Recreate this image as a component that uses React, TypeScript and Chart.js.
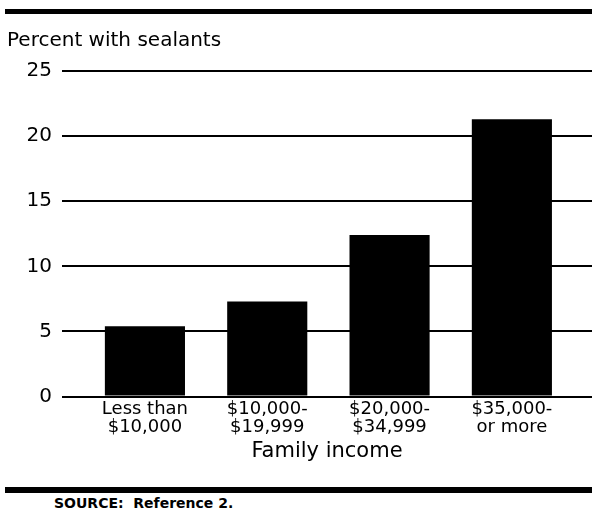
import React, { useEffect, useRef } from "react";
import { Chart, registerables } from "chart.js";

Chart.register(...registerables);

const categories: string[][] = [
  ["Less than", "$10,000"],
  ["$10,000-", "$19,999"],
  ["$20,000-", "$34,999"],
  ["$35,000-", "or more"],
];
const sealantPercent: number[] = [5.4, 7.3, 12.4, 21.3];
const yTicks: number[] = [0, 5, 10, 15, 20, 25];
const yTitle = "Percent with sealants";
const xTitle = "Family income";
const sourceText = "SOURCE:  Reference 2.";

const FONT = "'DejaVu Sans', 'Liberation Sans', Arial, sans-serif";

export default function App() {
  const canvasRef = useRef<HTMLCanvasElement | null>(null);

  useEffect(() => {
    const canvas = canvasRef.current;
    if (!canvas) return;
    const chart = new Chart(canvas, {
      type: "bar",
      data: {
        datasets: [
          {
            data: sealantPercent.map((v, i) => ({ x: i, y: v })),
            backgroundColor: "#000000",
            borderWidth: 0,
            barPercentage: 0.655,
            categoryPercentage: 1,
          },
        ],
      },
      options: {
        animation: false,
        responsive: false,
        maintainAspectRatio: false,
        layout: { padding: { left: 7, right: 0, top: 0, bottom: 2.3 } },
        plugins: {
          legend: { display: false },
          tooltip: { enabled: false },
          title: {
            display: true,
            text: yTitle,
            align: "start",
            color: "#000",
            font: { family: FONT, size: 20, weight: "normal", lineHeight: 1.2 },
            padding: { top: 29, bottom: 18 },
          },
        },
        scales: {
          x: {
            type: "linear",
            offset: false,
            min: -0.678,
            max: 3.655,
            grid: { display: false, drawTicks: false },
            border: { display: false },
            ticks: {
              stepSize: 1,
              includeBounds: false,
              autoSkip: false,
              maxRotation: 0,
              color: "#000",
              padding: 4,
              font: { family: FONT, size: 18, lineHeight: 1.0 },
              callback: (value: any) => {
                const idx = Number(value);
                return Number.isInteger(idx) && categories[idx] ? categories[idx] : "";
              },
            },
            title: {
              display: true,
              text: xTitle,
              color: "#000",
              font: { family: FONT, size: 21, lineHeight: 1.2 },
              padding: { top: -2, bottom: 4 },
            },
          },
          y: {
            min: 0,
            max: 25,
            afterBuildTicks: (axis: any) => {
              axis.ticks = yTicks.map((v) => ({ value: v }));
            },
            afterFit: (axis: any) => {
              axis.width = 55;
            },
            grid: { color: "#000", lineWidth: 2, drawTicks: false },
            border: { display: false },
            ticks: {
              color: "#000",
              padding: 10,
              font: { family: FONT, size: 20 },
            },
          },
        },
      },
    });
    return () => chart.destroy();
  }, []);

  return (
    <div
      style={{
        position: "fixed",
        left: 0,
        top: 0,
        width: 592,
        height: 511,
        background: "#fff",
        overflow: "hidden",
      }}
    >
      <canvas
        ref={canvasRef}
        width={592}
        height={470}
        style={{ position: "absolute", left: 0, top: 0, width: 592, height: 470 }}
      />
      <div
        style={{
          position: "absolute",
          left: 5,
          top: 9,
          width: 587,
          height: 5,
          background: "#000",
        }}
      />
      <div
        style={{
          position: "absolute",
          left: 5,
          top: 487,
          width: 587,
          height: 6,
          background: "#000",
        }}
      />
      <div
        style={{
          position: "absolute",
          left: 54,
          top: 495,
          fontFamily: FONT,
          fontWeight: "bold",
          fontSize: 14,
          lineHeight: "17px",
          color: "#000",
          whiteSpace: "pre",
        }}
      >
        {sourceText}
      </div>
    </div>
  );
}
